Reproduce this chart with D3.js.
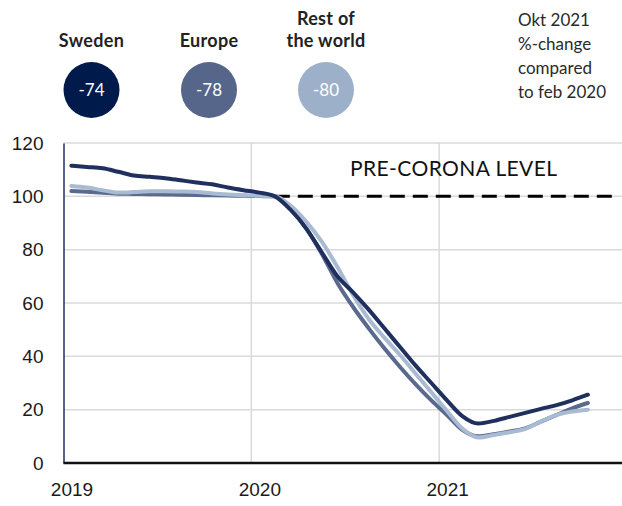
<!DOCTYPE html>
<html>
<head>
<meta charset="utf-8">
<script src="https://cdn.jsdelivr.net/npm/d3@7"></script>
<style>
  body { margin: 0; background: #fff; }
  svg { display: block; font-family: Lato, "Open Sans", sans-serif; }
</style>
</head>
<body>
<div id="wrapper"></div>
<script>
// Monthly index, Jan 2019 .. Okt 2021 (feb 2020 = 100)
const yearLabels = ["2019", "2020", "2021"];
const yTicks = [0, 20, 40, 60, 80, 100, 120];

const sweden = [111.5, 111, 110.5, 109.2, 107.8, 107.3, 106.8, 106, 105.2, 104.5, 103.3, 102.3,
  101.4, 100, 95, 88, 79, 70, 64, 57.5, 50.5, 43.5, 36.5, 30,
  23.5, 17.5, 14.8, 15.8, 17.3, 18.8, 20.3, 21.7, 23.5, 25.6];
const europe = [102, 101.7, 101.3, 101, 100.9, 100.8, 100.7, 100.6, 100.5, 100.4, 100.3, 100.2,
  100.1, 100, 95.5, 88, 78.5, 67.5, 58.5, 50.5, 43, 36, 29.5, 23.5,
  18, 12.3, 10, 10.8, 11.8, 13, 15.5, 18, 20.5, 22.5];
const restOfWorld = [103.9, 103.3, 102.3, 101.4, 101.6, 101.9, 101.9, 101.8, 101.6, 101.1, 100.7, 100.4,
  100.2, 100, 96.5, 90.5, 83, 73.5, 63, 54, 47, 40.5, 33.5, 26.5,
  19.5, 12.8, 9.6, 10.5, 11.5, 12.8, 15.5, 18, 19.3, 20];

const seriesNames = ["Sweden", "Europe", "Rest of the world"];
const legendLines = [["Sweden"], ["Europe"], ["Rest of", "the world"]];
const changeValues = ["-74", "-78", "-80"];
const noteLines = ["Okt 2021", "%-change", "compared", "to feb 2020"];
const preCoronaLabel = "PRE-CORONA LEVEL";
const preCoronaStart = 13; // feb 2020

const lineColors = ["#1f2f5e", "#5a6a8e", "#a9bbd2"];
const circleColors = ["#001a4b", "#56668a", "#9db0ca"];

const dimensions = {
  width: 622,
  height: 506,
  margin: { top: 143, right: 0, bottom: 43, left: 63.5 },
};
dimensions.boundedWidth = dimensions.width - dimensions.margin.left - dimensions.margin.right;
dimensions.boundedHeight = dimensions.height - dimensions.margin.top - dimensions.margin.bottom;

const wrapper = d3.select("#wrapper").append("svg")
  .attr("width", dimensions.width)
  .attr("height", dimensions.height);

const bounds = wrapper.append("g")
  .attr("transform", `translate(${dimensions.margin.left}, ${dimensions.margin.top})`);

// scales: months since jan 2019, one year = 187.8px
const xScale = d3.scaleLinear()
  .domain([0, 36])
  .range([0, 563.5]);

const yScale = d3.scaleLinear()
  .domain([0, 120])
  .range([dimensions.boundedHeight, 0]);

// grid
bounds.append("g").selectAll("line")
  .data(yTicks.filter(d => d > 0))
  .join("line")
  .attr("x1", 0)
  .attr("x2", dimensions.boundedWidth)
  .attr("y1", d => yScale(d))
  .attr("y2", d => yScale(d))
  .attr("stroke", "#dadada")
  .attr("stroke-width", 1.5);

bounds.append("g").selectAll("line")
  .data([12, 24])
  .join("line")
  .attr("x1", d => xScale(d))
  .attr("x2", d => xScale(d))
  .attr("y1", 0)
  .attr("y2", dimensions.boundedHeight)
  .attr("stroke", "#dadada")
  .attr("stroke-width", 1.5);

// y axis
const yAxis = bounds.append("g")
  .call(d3.axisLeft(yScale).tickValues(yTicks).tickSize(0).tickPadding(20));
yAxis.select(".domain").attr("stroke", "#1f2f5e").attr("stroke-width", 1.5);
yAxis.selectAll("text")
  .attr("fill", "#1a1a1a")
  .style("font-size", "19px");

// x axis
const xAxis = bounds.append("g")
  .attr("transform", `translate(0, ${dimensions.boundedHeight})`)
  .call(d3.axisBottom(xScale).tickValues([0, 12, 24])
    .tickFormat((d, i) => yearLabels[i]).tickSize(0).tickPadding(20));
xAxis.select(".domain").attr("stroke", "#111").attr("stroke-width", 2.5)
  .attr("d", `M0,0H${dimensions.boundedWidth}`);
xAxis.selectAll("text")
  .attr("fill", "#1a1a1a")
  .attr("dx", 8)
  .style("font-size", "19px");

// pre-corona level
bounds.append("line")
  .attr("x1", xScale(preCoronaStart + 0.5))
  .attr("x2", xScale(35.2))
  .attr("y1", yScale(100))
  .attr("y2", yScale(100))
  .attr("stroke", "#000")
  .attr("stroke-width", 3)
  .attr("stroke-dasharray", "15,8");

bounds.append("text")
  .attr("x", 350 - dimensions.margin.left)
  .attr("y", yScale(100) - 20)
  .attr("fill", "#111")
  .style("font-size", "21px")
  .style("letter-spacing", "0.4px")
  .text(preCoronaLabel);

// lines
const lineGenerator = d3.line()
  .x((d, i) => xScale(i + 0.5))
  .y(d => yScale(d))
  .curve(d3.curveMonotoneX);

const allSeries = [sweden, europe, restOfWorld];
[1, 2, 0].forEach(k => {
  bounds.append("path")
    .attr("d", lineGenerator(allSeries[k]))
    .attr("fill", "none")
    .attr("stroke", lineColors[k])
    .attr("stroke-width", 4)
    .attr("stroke-linejoin", "round")
    .attr("stroke-linecap", "round");
});

// legend circles
const legendX = [91.5, 209, 326];
const legend = wrapper.append("g");
const items = legend.selectAll("g")
  .data(seriesNames)
  .join("g")
  .attr("transform", (d, i) => `translate(${legendX[i]}, 0)`);

items.append("circle")
  .attr("cy", 90)
  .attr("r", 28)
  .attr("fill", (d, i) => circleColors[i]);

items.append("text")
  .attr("y", 96)
  .attr("text-anchor", "middle")
  .attr("fill", "#fff")
  .style("font-size", "17px")
  .text((d, i) => changeValues[i]);

items.each(function(d, i) {
  const lines = legendLines[i];
  d3.select(this).selectAll(".lbl")
    .data(lines)
    .join("text")
    .attr("class", "lbl")
    .attr("y", (t, j) => 47 - (lines.length - 1 - j) * 22)
    .attr("text-anchor", "middle")
    .attr("fill", "#222")
    .style("font-size", "18px")
    .style("font-weight", "700")
    .style("letter-spacing", "0.3px")
    .text(t => t);
});

// note
wrapper.append("g").selectAll("text")
  .data(noteLines)
  .join("text")
  .attr("x", 518)
  .attr("y", (d, i) => 26 + i * 24)
  .attr("fill", "#2a2a2a")
  .style("font-size", "17px")
  .text(d => d);
</script>
</body>
</html>
